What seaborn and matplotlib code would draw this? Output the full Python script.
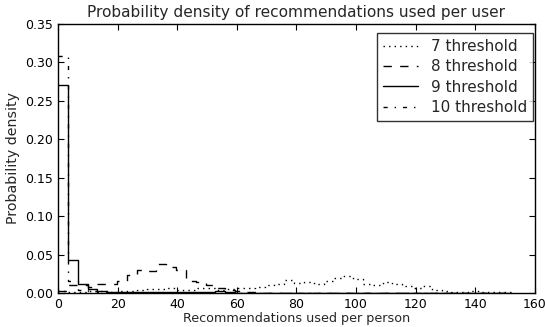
import numpy as np
import matplotlib
matplotlib.use("Agg")
import matplotlib.pyplot as plt
import seaborn as sns

# bin edges (width ~3.3)
bin_edges = [round(3.3 * i, 2) for i in range(47)]
bin_centers = [(a + b) / 2 for a, b in zip(bin_edges[:-1], bin_edges[1:])]

dens_7 = [0.002, 0.001, 0.001, 0.002, 0.002, 0.001, 0.002, 0.003, 0.004, 0.005,
          0.005, 0.006, 0.004, 0.004, 0.007, 0.006, 0.004, 0.005, 0.006, 0.007,
          0.008, 0.010, 0.012, 0.017, 0.013, 0.014, 0.012, 0.016, 0.019, 0.022,
          0.018, 0.012, 0.011, 0.014, 0.012, 0.009, 0.007, 0.009, 0.004, 0.002,
          0.001, 0.001, 0.002, 0.001, 0.001, 0.001]
dens_8 = [0.003, 0.010, 0.010, 0.008, 0.012, 0.012, 0.016, 0.024, 0.030, 0.029,
          0.038, 0.034, 0.030, 0.015, 0.014, 0.010, 0.006, 0.004, 0.002, 0.001,
          0.0, 0.0, 0.0, 0.0, 0.0, 0.0, 0.0, 0.0, 0.0, 0.0,
          0.0, 0.0, 0.0, 0.0, 0.0, 0.0, 0.0, 0.0, 0.0, 0.0,
          0.0, 0.0, 0.0, 0.0, 0.0, 0.0]
dens_9 = [0.271, 0.043, 0.012, 0.005, 0.002, 0.001, 0.001, 0.001, 0.001, 0.001,
          0.001, 0.001, 0.001, 0.001, 0.001, 0.001, 0.002, 0.001, 0.0, 0.0,
          0.0, 0.0, 0.0, 0.0, 0.0, 0.0, 0.0, 0.0, 0.0, 0.0,
          0.0, 0.0, 0.0, 0.0, 0.0, 0.0, 0.0, 0.0, 0.0, 0.0,
          0.0, 0.0, 0.0, 0.0, 0.0, 0.0]
dens_10 = [0.309, 0.015, 0.004, 0.002, 0.001, 0.0, 0.0, 0.0, 0.0, 0.0,
           0.0, 0.0, 0.0, 0.0, 0.0, 0.0, 0.0, 0.0, 0.0, 0.0,
           0.0, 0.0, 0.0, 0.0, 0.0, 0.0, 0.0, 0.0, 0.0, 0.0,
           0.0, 0.0, 0.0, 0.0, 0.0, 0.0, 0.0, 0.0, 0.0, 0.0,
           0.0, 0.0, 0.0, 0.0, 0.0, 0.0]

labels = ["7 threshold", "8 threshold", "9 threshold", "10 threshold"]
x_ticks = [0, 20, 40, 60, 80, 100, 120, 140, 160]
y_ticks = [0.00, 0.05, 0.10, 0.15, 0.20, 0.25, 0.30, 0.35]

sns.set_style("white", {
    "xtick.direction": "in", "ytick.direction": "in",
    "axes.edgecolor": "black", "xtick.bottom": True, "ytick.left": True,
    "xtick.top": True, "ytick.right": True,
})
plt.rcParams["font.family"] = ["DejaVu Sans"]
plt.rcParams["lines.scale_dashes"] = False
plt.rcParams["lines.dashed_pattern"] = [6, 6]
plt.rcParams["lines.dotted_pattern"] = [1, 3]
plt.rcParams["lines.dashdot_pattern"] = [3, 5, 1, 5]

fig = plt.figure(figsize=(5.45, 3.27), dpi=100)
ax = fig.add_axes([0.1064, 0.104, 0.8752, 0.8226])

styles = [":", "--", "-", "-."]
for dens, lab, ls in zip([dens_7, dens_8, dens_9, dens_10], labels, styles):
    sns.histplot(x=bin_centers, weights=dens, bins=bin_edges, element="step",
                 fill=False, stat="count", color="black", linestyle=ls,
                 linewidth=1.0, label=lab, ax=ax)

ax.set_xlim(0, 160)
ax.set_ylim(0, 0.35)
ax.set_xticks(x_ticks)
ax.set_yticks(y_ticks)
ax.set_yticklabels([f"{v:.2f}" for v in y_ticks])
ax.tick_params(axis="both", which="both", direction="in", length=4, width=0.8,
               labelsize=9, top=True, right=True, colors="black")
for s in ax.spines.values():
    s.set_color("black")
    s.set_linewidth(1.0)
ax.set_xlabel("Recommendations used per person", fontsize=9.2, labelpad=1)
ax.set_ylabel("Probability density", fontsize=10.2, labelpad=4)
ax.set_title("Probability density of recommendations used per user", fontsize=11.1, pad=5)

leg = ax.legend(loc="upper right", fontsize=11, frameon=True, fancybox=False,
                edgecolor="black", handlelength=2.3, borderpad=0.4,
                labelspacing=0.35, borderaxespad=0,
                bbox_to_anchor=(0.9958, 0.9665))
leg.get_frame().set_linewidth(1.0)

fig.savefig("out.png", dpi=100)
